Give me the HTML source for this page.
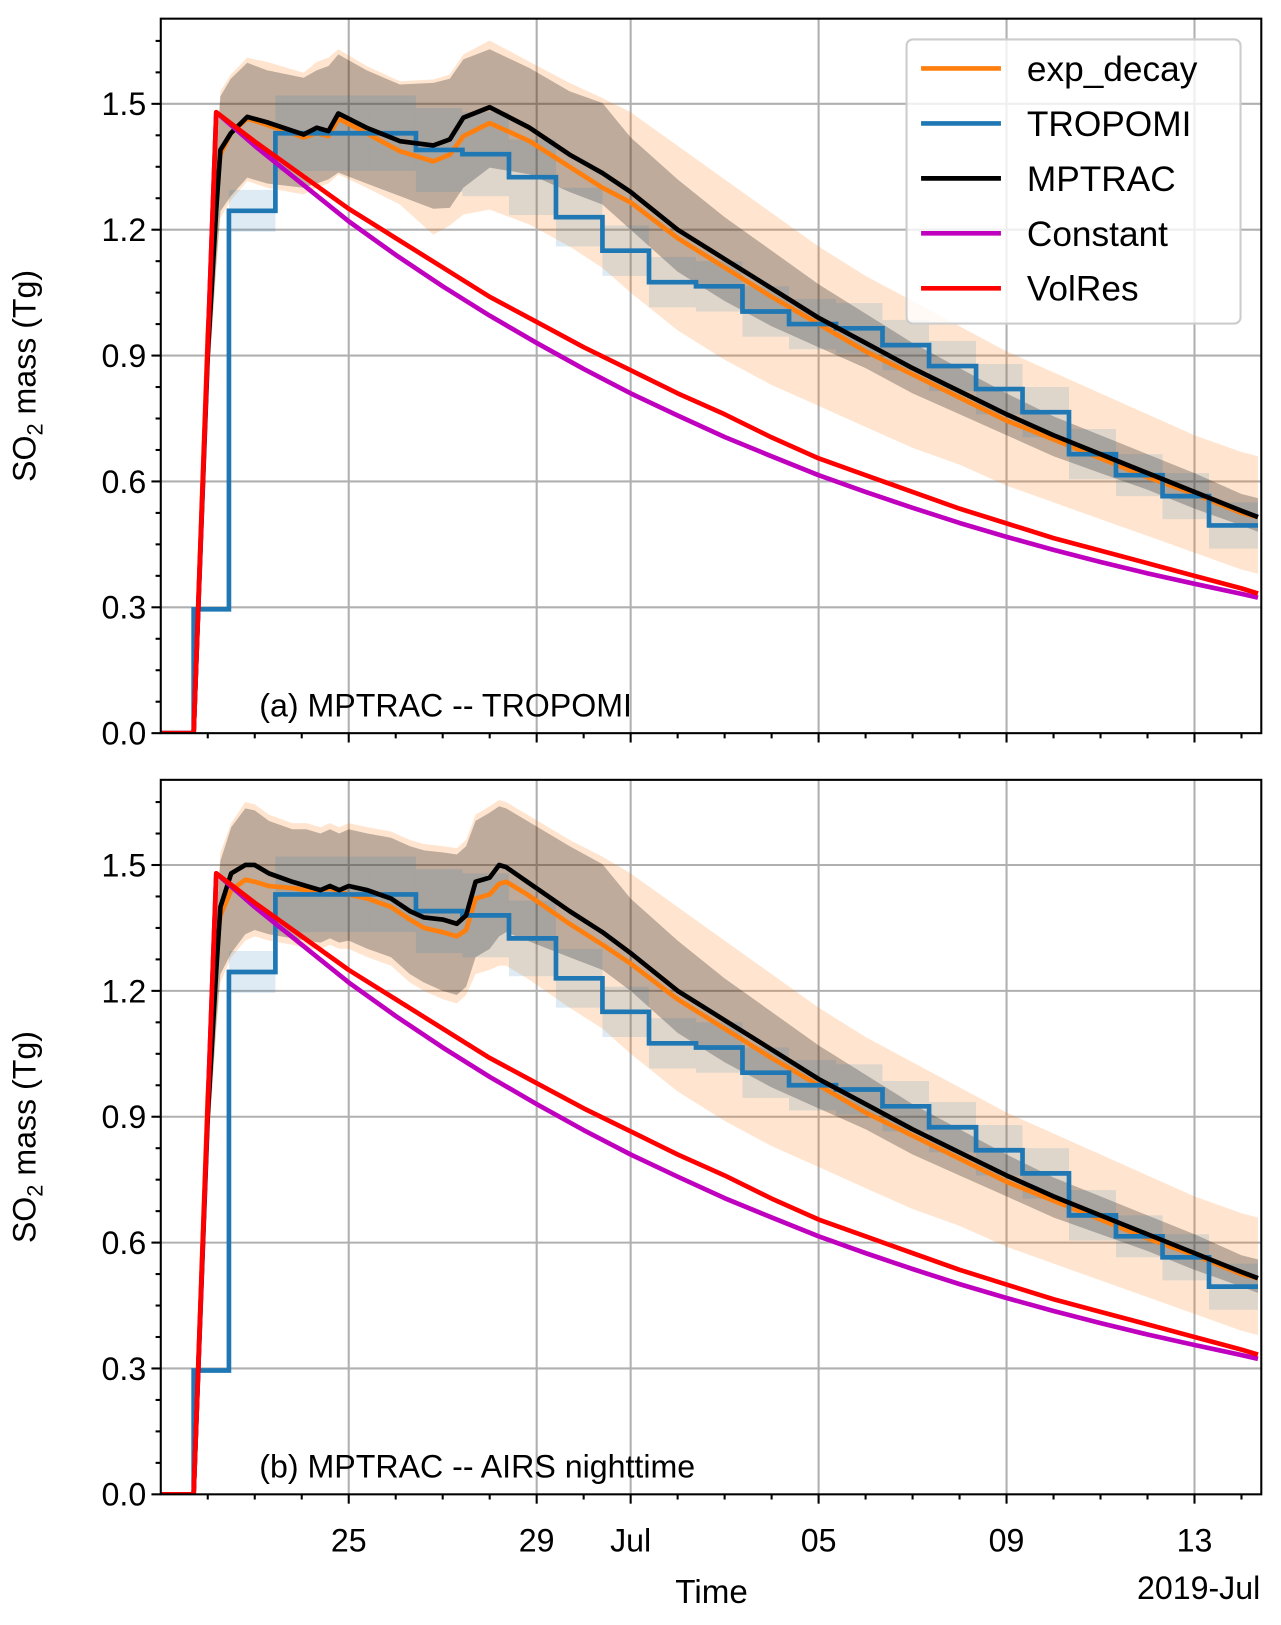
<!DOCTYPE html>
<html><head><meta charset="utf-8"><style>
html,body{margin:0;padding:0;background:#fff;}
svg{display:block;font-family:"Liberation Sans","DejaVu Sans",sans-serif;}
</style></head><body>
<svg id="chart" width="1281" height="1625" viewBox="0 0 1235 1567" preserveAspectRatio="none" xmlns="http://www.w3.org/2000/svg">
<defs>
<clipPath id="clipA"><rect x="155" y="18" width="1061" height="689"/></clipPath>
<clipPath id="clipB"><rect x="155" y="752" width="1061" height="689"/></clipPath>
</defs>
<g id="panelA"></g>
<g id="panelB"></g>
<g id="legend"></g>
</svg>
<script>
// ---- data (t = days since 21 June 2019, values in Tg) ----
const tTail = [10, 11, 12, 13, 14, 15, 16, 17, 18, 19, 20, 21, 22, 23, 23.35];
const blackTail = [1.29, 1.20, 1.13, 1.06, 0.99, 0.93, 0.87, 0.815, 0.76, 0.71, 0.665, 0.62, 0.575, 0.53, 0.515];
const orangeTail = [1.265, 1.18, 1.11, 1.04, 0.975, 0.91, 0.855, 0.80, 0.745, 0.70, 0.655, 0.61, 0.57, 0.525, 0.515];
const orangeHiTail = [1.48, 1.40, 1.32, 1.24, 1.16, 1.09, 1.03, 0.97, 0.91, 0.86, 0.81, 0.76, 0.71, 0.67, 0.66];
const orangeLoTail = [1.05, 0.96, 0.89, 0.83, 0.78, 0.73, 0.68, 0.64, 0.59, 0.55, 0.51, 0.47, 0.43, 0.39, 0.38];
const blackHiTail = [1.42, 1.32, 1.23, 1.15, 1.07, 1.00, 0.93, 0.87, 0.81, 0.755, 0.71, 0.665, 0.62, 0.57, 0.56];
const blackLoTail = [1.20, 1.10, 1.03, 0.97, 0.92, 0.87, 0.81, 0.76, 0.71, 0.66, 0.62, 0.58, 0.535, 0.495, 0.48];

const tHeadA = [0, 0.70, 1.0, 1.18, 1.27, 1.49, 1.84, 2.26, 3.04, 3.32, 3.57, 3.78, 4.38, 5.09, 5.80, 6.15, 6.44, 7.0, 7.85, 8.7, 9.4];
const blackHeadA = [0, 0, 0.9, 1.25, 1.39, 1.43, 1.469, 1.456, 1.427, 1.443, 1.435, 1.477, 1.443, 1.411, 1.401, 1.415, 1.467, 1.492, 1.443, 1.379, 1.335];
const orangeHeadA = [0, 0, 0.95, 1.30, 1.38, 1.43, 1.465, 1.45, 1.42, 1.43, 1.423, 1.465, 1.43, 1.387, 1.363, 1.379, 1.423, 1.454, 1.411, 1.35, 1.30];
const orangeHiHeadA = [0, 0, 0.9, 1.40, 1.53, 1.57, 1.61, 1.60, 1.574, 1.60, 1.61, 1.63, 1.59, 1.554, 1.558, 1.57, 1.618, 1.651, 1.60, 1.55, 1.514];
const orangeLoHeadA = [0, 0, 0.8, 1.10, 1.228, 1.27, 1.316, 1.30, 1.284, 1.30, 1.31, 1.332, 1.30, 1.26, 1.188, 1.21, 1.236, 1.248, 1.212, 1.16, 1.109];
const blackHiHeadA = [0, 0, 0.88, 1.38, 1.518, 1.56, 1.598, 1.58, 1.562, 1.58, 1.59, 1.618, 1.58, 1.546, 1.55, 1.56, 1.606, 1.63, 1.585, 1.53, 1.502];
const blackLoHeadA = [0, 0, 0.82, 1.12, 1.244, 1.28, 1.324, 1.31, 1.30, 1.31, 1.32, 1.336, 1.31, 1.28, 1.25, 1.252, 1.30, 1.348, 1.332, 1.29, 1.26];

const tHeadB = [0, 0.70, 1.0, 1.18, 1.27, 1.5, 1.8, 2.0, 2.3, 2.8, 3.1, 3.4, 3.6, 3.8, 4.0, 4.4, 4.9, 5.3, 5.6, 6.0, 6.3, 6.5, 6.7, 7.0, 7.2, 7.35, 7.8, 8.7, 9.4];
const blackHeadB = [0, 0, 0.9, 1.25, 1.40, 1.48, 1.50, 1.50, 1.48, 1.46, 1.45, 1.44, 1.45, 1.44, 1.45, 1.44, 1.42, 1.39, 1.375, 1.37, 1.36, 1.38, 1.46, 1.47, 1.50, 1.495, 1.46, 1.39, 1.34];
const orangeHeadB = [0, 0, 0.95, 1.30, 1.38, 1.44, 1.465, 1.46, 1.45, 1.445, 1.44, 1.44, 1.445, 1.435, 1.43, 1.42, 1.40, 1.37, 1.35, 1.34, 1.33, 1.345, 1.42, 1.43, 1.455, 1.46, 1.43, 1.36, 1.31];
const orangeHiHeadB = [0, 0, 0.9, 1.40, 1.53, 1.60, 1.65, 1.645, 1.62, 1.60, 1.60, 1.59, 1.60, 1.59, 1.60, 1.59, 1.58, 1.56, 1.55, 1.545, 1.54, 1.56, 1.62, 1.64, 1.655, 1.65, 1.62, 1.56, 1.52];
const orangeLoHeadB = [0, 0, 0.8, 1.10, 1.22, 1.28, 1.32, 1.33, 1.32, 1.31, 1.30, 1.30, 1.31, 1.30, 1.30, 1.28, 1.26, 1.22, 1.20, 1.18, 1.17, 1.19, 1.24, 1.25, 1.26, 1.26, 1.23, 1.16, 1.11];
const blackHiHeadB = [0, 0, 0.88, 1.38, 1.51, 1.59, 1.635, 1.63, 1.605, 1.585, 1.585, 1.575, 1.585, 1.575, 1.585, 1.575, 1.565, 1.545, 1.535, 1.53, 1.525, 1.545, 1.605, 1.625, 1.64, 1.635, 1.605, 1.545, 1.502];
const blackLoHeadB = [0, 0, 0.82, 1.12, 1.24, 1.29, 1.335, 1.345, 1.335, 1.325, 1.32, 1.315, 1.325, 1.315, 1.32, 1.30, 1.28, 1.24, 1.22, 1.20, 1.19, 1.21, 1.28, 1.30, 1.33, 1.34, 1.32, 1.28, 1.25];

const tropStart = [0.70, 1.45, 2.44, 3.44, 4.43, 5.43, 6.42, 7.41, 8.41, 9.40, 10.39, 11.39, 12.38, 13.37, 14.37, 15.36, 16.35, 17.35, 18.34, 19.33, 20.33, 21.32, 22.31];
const tropValue = [0.295, 1.245, 1.43, 1.43, 1.43, 1.39, 1.38, 1.325, 1.23, 1.15, 1.075, 1.065, 1.005, 0.975, 0.965, 0.925, 0.875, 0.82, 0.765, 0.665, 0.615, 0.565, 0.495];
const tropErr = [0, 0.05, 0.09, 0.09, 0.09, 0.1, 0.1, 0.09, 0.07, 0.06, 0.06, 0.06, 0.06, 0.06, 0.06, 0.06, 0.06, 0.06, 0.06, 0.06, 0.05, 0.055, 0.055];
const tEnd = 23.35;

const tModel = [0, 0.70, 1.18, 2, 3, 4, 5, 6, 7, 8, 9, 10, 11, 12, 13, 14, 15, 16, 17, 18, 19, 20, 21, 22, 23, 23.35];
const constantVals = [0, 0, 1.48, 1.40, 1.31, 1.22, 1.14, 1.065, 0.995, 0.93, 0.868, 0.81, 0.757, 0.706, 0.66, 0.615, 0.575, 0.537, 0.501, 0.468, 0.437, 0.408, 0.381, 0.356, 0.332, 0.323];
const volresVals = [0, 0, 1.48, 1.41, 1.33, 1.25, 1.18, 1.11, 1.04, 0.98, 0.92, 0.865, 0.81, 0.76, 0.705, 0.655, 0.615, 0.575, 0.535, 0.50, 0.465, 0.435, 0.405, 0.375, 0.345, 0.333];

const yTicks = [0.0, 0.3, 0.6, 0.9, 1.2, 1.5];
const yTickLabels = ["0.0", "0.3", "0.6", "0.9", "1.2", "1.5"];
const xMajorT = [4, 8, 10, 14, 18, 22];
const xMajorLabels = ["25", "29", "Jul", "05", "09", "13"];
const legendNames = ["exp_decay", "TROPOMI", "MPTRAC", "Constant", "VolRes"];

// ---- drawing ----
const NS = "http://www.w3.org/2000/svg";
const X0 = 155, X1 = 1216, PX_DAY = 45.3, YMAX = 1.703;
function sx(t) { return X0 + t * PX_DAY; }
function mk(tag, attrs, parent) {
  const e = document.createElementNS(NS, tag);
  for (const k in attrs) e.setAttribute(k, attrs[k]);
  parent.appendChild(e);
  return e;
}
function linePath(ts, vs, sy) {
  return ts.map((t, i) => (i ? "L" : "M") + sx(t).toFixed(1) + "," + sy(vs[i]).toFixed(1)).join("");
}
function bandPath(ts, lo, hi, sy) {
  let d = ts.map((t, i) => (i ? "L" : "M") + sx(t).toFixed(1) + "," + sy(hi[i]).toFixed(1)).join("");
  for (let i = ts.length - 1; i >= 0; i--) d += "L" + sx(ts[i]).toFixed(1) + "," + sy(lo[i]).toFixed(1);
  return d + "Z";
}

function drawPanel(g, top, bottom, clipId, d, label, showXLabels) {
  const sy = v => bottom - v / YMAX * (bottom - top);
  yTicks.forEach(v => {
    if (v === 0) return;
    const l = mk("line", {x1: X0, x2: X1, y1: sy(v), y2: sy(v), stroke: "#b0b0b0", "stroke-width": 2}, g);
    
    
  });
  xMajorT.forEach(t => {
    const l = mk("line", {x1: sx(t), x2: sx(t), y1: top, y2: bottom, stroke: "#b0b0b0", "stroke-width": 2}, g);
    
    
  });
  const c = mk("g", {"clip-path": "url(#" + clipId + ")"}, g);
  
  
  const ob = mk("path", {d: bandPath(d.t, d.oLo, d.oHi, sy), fill: "rgba(255,127,14,0.2)"}, c);
  
  
  const bb = mk("path", {d: bandPath(d.t, d.bLo, d.bHi, sy), fill: "rgba(0,0,0,0.25)"}, c);
  
  
  tropStart.forEach((s, i) => {
    const e = i + 1 < tropStart.length ? tropStart[i + 1] : tEnd;
    if (tropErr[i] <= 0) return;
    const r = mk("rect", {x: sx(s), y: sy(tropValue[i] + tropErr[i]), width: sx(e) - sx(s), height: sy(tropValue[i] - tropErr[i]) - sy(tropValue[i] + tropErr[i]), fill: "rgba(31,119,180,0.15)"}, c);
    
    
  });
  const o = mk("path", {d: linePath(d.t, d.o, sy), fill: "none", stroke: "#ff7f0e", "stroke-width": 4.5, "stroke-linejoin": "round"}, c);
  
  
  let td = "M" + sx(0) + "," + sy(0) + "L" + sx(tropStart[0]) + "," + sy(0);
  tropStart.forEach((s, i) => {
    const e = i + 1 < tropStart.length ? tropStart[i + 1] : tEnd;
    td += "L" + sx(s).toFixed(1) + "," + sy(tropValue[i]).toFixed(1) + "L" + sx(e).toFixed(1) + "," + sy(tropValue[i]).toFixed(1);
  });
  const tr = mk("path", {d: td, fill: "none", stroke: "#1f77b4", "stroke-width": 4.5, "stroke-linejoin": "miter"}, c);
  
  
  const bl = mk("path", {d: linePath(d.t, d.b, sy), fill: "none", stroke: "#000", "stroke-width": 4.5, "stroke-linejoin": "round"}, c);
  
  
  const mg = mk("path", {d: linePath(tModel, constantVals, sy), fill: "none", stroke: "#bf00bf", "stroke-width": 4.5, "stroke-linejoin": "round"}, c);
  
  
  const rd = mk("path", {d: linePath(tModel, volresVals, sy), fill: "none", stroke: "#ff0000", "stroke-width": 4.5, "stroke-linejoin": "round"}, c);
  
  
  const fr = mk("rect", {x: X0, y: top, width: X1 - X0, height: bottom - top, fill: "none", stroke: "#000", "stroke-width": 2}, g);
  
  
  for (let v = 0; v <= 1.7001; v += 0.075) {
    const major = Math.abs(v / 0.3 - Math.round(v / 0.3)) < 1e-6;
    const tk = mk("line", {x1: X0, x2: X0 - (major ? 9 : 5), y1: sy(v), y2: sy(v), stroke: "#000", "stroke-width": 2}, g);
    
    
  }
  yTicks.forEach((v, i) => {
    const tx = mk("text", {x: 141, y: sy(v) + 11, "text-anchor": "end", "font-size": 31}, g);
    tx.textContent = yTickLabels[i];
    
    
  });
  for (let day = 1; day <= 23; day++) {
    const major = xMajorT.indexOf(day) >= 0;
    const tk = mk("line", {x1: sx(day), x2: sx(day), y1: bottom, y2: bottom + (major ? 9 : 5), stroke: "#000", "stroke-width": 2}, g);
    
    
  }
  if (showXLabels) {
    xMajorT.forEach((t, i) => {
      const tx = mk("text", {x: sx(t), y: bottom + 55, "text-anchor": "middle", "font-size": 31}, g);
      tx.textContent = xMajorLabels[i];
      
      
    });
  }
  const yl = mk("text", {x: 0, y: 0, "text-anchor": "middle", "font-size": 31, transform: "translate(34," + ((top + bottom) / 2) + ") rotate(-90)"}, g);
  yl.innerHTML = 'SO<tspan font-size="21" dy="7">2</tspan><tspan dy="-7"> mass (Tg)</tspan>';
  
  
  const pl = mk("text", {x: 250, y: bottom - 16, "font-size": 31}, g);
  pl.textContent = label;
  
  
}

const dataA = {
  t: tHeadA.concat(tTail), b: blackHeadA.concat(blackTail), o: orangeHeadA.concat(orangeTail),
  oHi: orangeHiHeadA.concat(orangeHiTail), oLo: orangeLoHeadA.concat(orangeLoTail),
  bHi: blackHiHeadA.concat(blackHiTail), bLo: blackLoHeadA.concat(blackLoTail)
};
const dataB = {
  t: tHeadB.concat(tTail), b: blackHeadB.concat(blackTail), o: orangeHeadB.concat(orangeTail),
  oHi: orangeHiHeadB.concat(orangeHiTail), oLo: orangeLoHeadB.concat(orangeLoTail),
  bHi: blackHiHeadB.concat(blackHiTail), bLo: blackLoHeadB.concat(blackLoTail)
};
drawPanel(document.getElementById("panelA"), 18, 707, "clipA", dataA, "(a) MPTRAC -- TROPOMI", false);
drawPanel(document.getElementById("panelB"), 752, 1441, "clipB", dataB, "(b) MPTRAC -- AIRS nighttime", true);

const svg = document.getElementById("chart");
const xt = mk("text", {x: 686, y: 1546, "text-anchor": "middle", "font-size": 32}, svg);
xt.textContent = "Time";


const yr = mk("text", {x: 1215, y: 1542, "text-anchor": "end", "font-size": 31}, svg);
yr.textContent = "2019-Jul";



const lg = document.getElementById("legend");
const box = mk("rect", {x: 874, y: 38, width: 322, height: 274, rx: 6, fill: "rgba(255,255,255,0.8)", stroke: "#cccccc", "stroke-width": 2}, lg);


const legendColors = ["#ff7f0e", "#1f77b4", "#000000", "#bf00bf", "#ff0000"];
legendNames.forEach((n, i) => {
  const y = 66 + i * 53;
  const ent = mk("g", {}, lg);
  
  
  mk("line", {x1: 888, x2: 965, y1: y, y2: y, stroke: legendColors[i], "stroke-width": 4.5}, ent);
  const tx = mk("text", {x: 990, y: y + 12, "font-size": 34}, ent);
  tx.textContent = n;
});
</script>
</body></html>
